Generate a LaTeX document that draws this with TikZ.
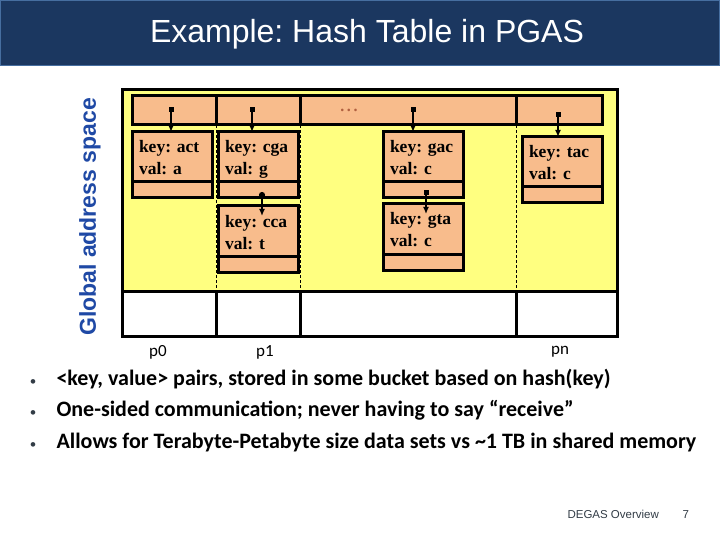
\documentclass[tikz,border=0pt]{standalone}
\usepackage{fontspec}
\setmainfont{Liberation Serif}
\setsansfont{Liberation Sans}
\newfontfamily\calibri{Carlito}
\usepackage{tikz}
\usetikzlibrary{arrows.meta, positioning}
\usepackage{xcolor}
\definecolor{titleblue}{RGB}{27,55,96}
\definecolor{titleedge}{RGB}{70,110,160}
\definecolor{memyellow}{RGB}{255,255,128}
\definecolor{cellfill}{RGB}{248,188,140}
\definecolor{axisblue}{RGB}{31,73,165}
\definecolor{dotbrown}{RGB}{176,96,64}
\definecolor{footgrey}{RGB}{50,60,70}
\frenchspacing

\begin{document}
\begin{tikzpicture}[x=1pt, y=-1pt,
        cell/.style={rectangle, draw, fill=cellfill, line width=3pt, outer sep=0pt, inner sep=0pt},
        kv/.style={cell, minimum width=80, minimum height=50, text width=66, text height=21pt, text depth=29pt, align=left, font=\bfseries\fontsize{17.5}{22}\selectfont},
        nxt/.style={cell, minimum width=80, minimum height=16},
        hdr/.style={cell, minimum height=29},
        ptr/.style={{Square[length=5pt,width=5pt]}-{Latex[length=7pt,width=6pt]}, line width=2pt},
        plabel/.style={font=\calibri\fontsize{17}{17}\selectfont},
        bul/.style={anchor=base west, font=\calibri\bfseries\fontsize{22}{24}\selectfont},
        bulmark/.style={anchor=base, font=\calibri\fontsize{13}{13}\selectfont, text=footgrey}
    ]
        \useasboundingbox (0,0) rectangle (720,540);

        % Title bar
        \fill[titleblue] (0,0) rectangle (720,66);
        \draw[titleedge, line width=1pt] (0.5,0.5) rectangle (719.5,66);
        \node[font=\sffamily\fontsize{32}{32}\selectfont, text=white] (title) at (367,34) {Example: Hash Table in PGAS};

        % Memory
        \draw[line width=3pt, fill=memyellow] (122,90) rectangle (617,291);
        \draw[line width=3pt, fill=white] (122,291) rectangle (617,336);
        \foreach \x in {216,300,516} {
            \draw[line width=0.6pt, dash pattern=on 3pt off 2pt] (\x,125) -- (\x,291);
            \draw[line width=3pt] (\x,291) -- (\x,336);
        }
        \node[rotate=90, font=\sffamily\bfseries\fontsize{23}{23}\selectfont, text=axisblue] (gas) at (90,217) {Global address space};

        % Buckets
        \node[hdr, minimum width=84, anchor=north west] (hd0) at (132,96) {};
        \node[hdr, minimum width=84, right=0pt of hd0] (hd1) {};
        \node[hdr, minimum width=216, right=0pt of hd1] (hdd) {};
        \node[hdr, minimum width=86, right=0pt of hdd] (hdn) {};
        \node[font=\bfseries\fontsize{16}{16}\selectfont, text=dotbrown] (ell) at (349,110) {.\,.\,.};

        % Entries
        \node[kv, anchor=north west] (act) at (132,132) {key: act\\val: a};
        \node[nxt, below=0pt of act] (actnx) {};
        \node[kv, anchor=north west] (cga) at (218,132) {key: cga\\val: g};
        \node[nxt, below=0pt of cga] (cganx) {};
        \node[kv, anchor=north west] (cca) at (218,206) {key: cca\\val: t};
        \node[nxt, below=0pt of cca] (ccanx) {};
        \node[kv, anchor=north west] (gac) at (383,132) {key: gac\\val: c};
        \node[nxt, below=0pt of gac] (gacnx) {};
        \node[kv, anchor=north west] (gta) at (383,204) {key: gta\\val: c};
        \node[nxt, below=0pt of gta] (gtanx) {};
        \node[kv, anchor=north west] (tac) at (522,137) {key: tac\\val: c};
        \node[nxt, below=0pt of tac] (tacnx) {};

        % Pointers
        \coordinate (d0) at (171,107);
        \coordinate (d1) at (252,107);
        \coordinate (d2) at (413,107);
        \coordinate (dn) at (558,112);
        \coordinate (dcga) at (262,192);
        \coordinate (dgac) at (426,190);
        \draw[ptr] (d0) -- (d0 |- act.north);
        \draw[ptr] (d1) -- (d1 |- cga.north);
        \draw[ptr] (d2) -- (d2 |- gac.north);
        \draw[ptr] (dn) -- (dn |- tac.north);
        \draw[ptr, {Circle[length=6pt]}-{Latex[length=7pt,width=6pt]}] (dcga) -- ([yshift=-10pt]dcga |- cca.north);
        \draw[ptr] (dgac) -- ([yshift=-10pt]dgac |- gta.north);

        % Processes
        \node[plabel] (lp0) at (158,352) {p0};
        \node[plabel] (lp1) at (265,352) {p1};
        \node[plabel] (lpn) at (560,352) {pn};

        % Bullets
        \node[bulmark] (m1) at (33,385) {•};
        \node[bul] (b1) at (53,385) {<key, value> pairs, stored in some bucket based on hash(key)};
        \node[bulmark] (m2) at (33,416) {•};
        \node[bul] (b2) at (53,416) {One-sided communication; never having to say “receive”};
        \node[bulmark] (m3) at (33,448) {•};
        \node[bul] (b3) at (53,448) {Allows for Terabyte-Petabyte size data sets vs \textasciitilde1 TB in shared memory};

        % Footer
        \node[anchor=base west, font=\sffamily\fontsize{11.5}{12}\selectfont, text=footgrey] (foot) at (564,518) {DEGAS Overview};
        \node[anchor=base west, font=\sffamily\fontsize{11.5}{12}\selectfont, text=footgrey] (pg) at (679,518) {7};
    \end{tikzpicture}
\end{document}
